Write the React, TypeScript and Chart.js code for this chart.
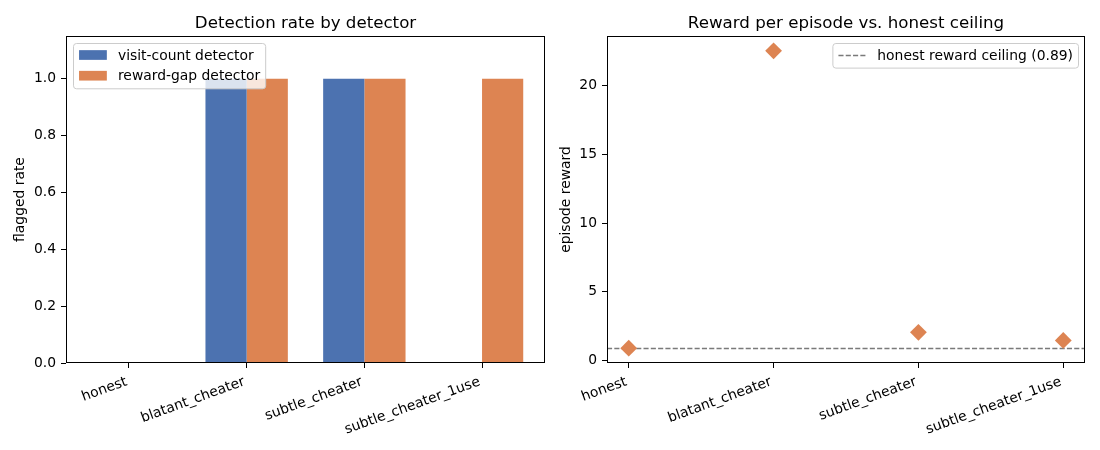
import React, { useEffect, useRef } from 'react';
import { Chart, registerables } from 'chart.js';

Chart.register(...registerables);

// ---------- data ----------
const CATEGORIES = ['honest', 'blatant_cheater', 'subtle_cheater', 'subtle_cheater_1use'];
const VISIT_COUNT_RATE = [0, 1, 1, 0];
const REWARD_GAP_RATE = [0, 1, 1, 1];
const EPISODE_REWARD = [0.88, 22.55, 2.03, 1.44];
const HONEST_CEILING = 0.89;
const RATE_TICKS = [0, 0.2, 0.4, 0.6, 0.8, 1.0];
const REWARD_TICKS = [0, 5, 10, 15, 20];
const RATE_MAX = 1.15;
const BAR_WIDTH = 0.35;

const LEFT_TITLE = 'Detection rate by detector';
const RIGHT_TITLE = 'Reward per episode vs. honest ceiling';
const LEFT_YLABEL = 'flagged rate';
const RIGHT_YLABEL = 'episode reward';
const SERIES_LABELS = ['visit-count detector', 'reward-gap detector'];
const CEILING_LABEL = `honest reward ceiling (${HONEST_CEILING.toFixed(2)})`;

// ---------- style ----------
const BLUE = '#4C72B0';
const ORANGE = '#DD8452';
const GRAY = '#7a7a7a';
const FONT = '"DejaVu Sans", "Liberation Sans", sans-serif';
const FS = 13.89;
const TITLE_FS = 16.67;
const W = 550;
const H = 450;
const TOP = 36;
const BOTTOM_AXIS_H = 87;

const rad20 = (20 * Math.PI) / 180;

function drawFrame(chart: any) {
  const { ctx, chartArea } = chart;
  ctx.save();
  ctx.strokeStyle = '#000';
  ctx.lineWidth = 1;
  ctx.strokeRect(
    Math.round(chartArea.left) + 0.5,
    Math.round(chartArea.top) + 0.5,
    Math.round(chartArea.right - chartArea.left) - 1,
    Math.round(chartArea.bottom - chartArea.top) - 1
  );
  ctx.restore();
}

function drawXLabels(chart: any) {
  const { ctx, chartArea } = chart;
  const xs = chart.scales.x;
  ctx.save();
  ctx.font = `${FS}px ${FONT}`;
  ctx.fillStyle = '#000';
  const h = FS * 1.164;
  const desc = FS * 0.236;
  const y0 = chartArea.bottom + 9.7;
  CATEGORIES.forEach((lab, i) => {
    const px = xs.getPixelForValue(i);
    ctx.save();
    ctx.translate(px, y0 + h * Math.cos(rad20));
    ctx.rotate(-rad20);
    ctx.textAlign = 'right';
    ctx.textBaseline = 'alphabetic';
    ctx.fillText(lab, 0, -desc);
    ctx.restore();
  });
  ctx.restore();
}

function drawTitles(chart: any, title: string, ylabel: string, ylabelX: number) {
  const { ctx, chartArea } = chart;
  ctx.save();
  ctx.fillStyle = '#000';
  ctx.font = `${TITLE_FS}px ${FONT}`;
  ctx.textAlign = 'center';
  ctx.textBaseline = 'alphabetic';
  ctx.fillText(title, (chartArea.left + chartArea.right) / 2, 28);
  ctx.font = `${FS}px ${FONT}`;
  ctx.translate(ylabelX, (chartArea.top + chartArea.bottom) / 2);
  ctx.rotate(-Math.PI / 2);
  ctx.textBaseline = 'middle';
  ctx.fillText(ylabel, 0, 0);
  ctx.restore();
}

function roundRect(ctx: any, x: number, y: number, w: number, h: number, r: number) {
  ctx.beginPath();
  ctx.moveTo(x + r, y);
  ctx.lineTo(x + w - r, y);
  ctx.arcTo(x + w, y, x + w, y + r, r);
  ctx.lineTo(x + w, y + h - r);
  ctx.arcTo(x + w, y + h, x + w - r, y + h, r);
  ctx.lineTo(x + r, y + h);
  ctx.arcTo(x, y + h, x, y + h - r, r);
  ctx.lineTo(x, y + r);
  ctx.arcTo(x, y, x + r, y, r);
  ctx.closePath();
}

type LegendItem = { label: string; kind: 'patch' | 'dash'; color: string };

function drawLegend(chart: any, items: LegendItem[], corner: 'left' | 'right') {
  const { ctx, chartArea } = chart;
  ctx.save();
  ctx.font = `${FS}px ${FONT}`;
  const pad = 0.4 * FS;
  const handleLen = 2 * FS;
  const textPad = 0.8 * FS;
  const rowStep = 20.7;
  const maxText = Math.max(...items.map((it) => ctx.measureText(it.label).width));
  const bw = pad + handleLen + textPad + maxText + pad;
  const bh = 2 * pad + 13.5 + (items.length - 1) * rowStep;
  const gap = 7;
  const bx = corner === 'left' ? chartArea.left + gap : chartArea.right - gap - bw;
  const by = chartArea.top + gap + 0.5;
  roundRect(ctx, bx + 0.5, by, bw, bh, 3);
  ctx.fillStyle = 'rgba(255,255,255,0.8)';
  ctx.fill();
  ctx.strokeStyle = '#cccccc';
  ctx.lineWidth = 1;
  ctx.stroke();
  items.forEach((it, i) => {
    const cy = by + pad + 6 + i * rowStep;
    const hx = bx + pad + 0.5;
    if (it.kind === 'patch') {
      ctx.fillStyle = it.color;
      ctx.fillRect(hx, cy - 4.9, handleLen, 9.7);
    } else {
      ctx.save();
      ctx.strokeStyle = it.color;
      ctx.lineWidth = 1.4;
      ctx.setLineDash([5.1, 2.2]);
      ctx.beginPath();
      ctx.moveTo(hx, Math.round(cy) + 0.5);
      ctx.lineTo(hx + handleLen, Math.round(cy) + 0.5);
      ctx.stroke();
      ctx.restore();
    }
    ctx.fillStyle = '#000';
    ctx.textAlign = 'left';
    ctx.textBaseline = 'middle';
    ctx.fillText(it.label, hx + handleLen + textPad, cy + 1);
  });
  ctx.restore();
}

function commonY(ticks: number[], min: number, max: number, width: number, fmt: (v: number) => string) {
  return {
    type: 'linear',
    min,
    max,
    afterBuildTicks: (s: any) => {
      s.ticks = ticks.map((v) => ({ value: v }));
    },
    afterFit: (s: any) => {
      s.width = width;
    },
    border: { display: false },
    grid: {
      display: true,
      drawOnChartArea: false,
      drawTicks: true,
      tickLength: 5,
      color: '#000',
      tickColor: '#000',
      lineWidth: 1,
    },
    ticks: {
      color: '#000',
      padding: 5,
      font: { size: FS, family: FONT },
      callback: (v: any) => fmt(Number(v)),
    },
  };
}

function commonX(min: number, max: number) {
  return {
    type: 'linear',
    min,
    max,
    offset: false,
    afterBuildTicks: (s: any) => {
      s.ticks = CATEGORIES.map((_, i) => ({ value: i }));
    },
    afterFit: (s: any) => {
      s.height = BOTTOM_AXIS_H;
    },
    border: { display: false },
    grid: {
      display: true,
      offset: false,
      drawOnChartArea: false,
      drawTicks: true,
      tickLength: 5,
      color: '#000',
      tickColor: '#000',
      lineWidth: 1,
    },
    ticks: { display: false },
  };
}

function LeftChart() {
  const ref = useRef<HTMLCanvasElement>(null);
  useEffect(() => {
    const n = CATEGORIES.length;
    const lo = -BAR_WIDTH;
    const hi = n - 1 + BAR_WIDTH;
    const pad = 0.05 * (hi - lo);
    const chart = new Chart(ref.current as HTMLCanvasElement, {
      type: 'bar',
      data: {
        datasets: [
          {
            label: SERIES_LABELS[0],
            data: VISIT_COUNT_RATE.map((v, i) => ({ x: i, y: v })),
            backgroundColor: BLUE,
            borderWidth: 0,
            categoryPercentage: 2 * BAR_WIDTH,
            barPercentage: 1,
          },
          {
            label: SERIES_LABELS[1],
            data: REWARD_GAP_RATE.map((v, i) => ({ x: i, y: v })),
            backgroundColor: ORANGE,
            borderWidth: 0,
            categoryPercentage: 2 * BAR_WIDTH,
            barPercentage: 1,
          },
        ] as any,
      },
      options: {
        animation: false,
        responsive: false,
        devicePixelRatio: 1,
        layout: { padding: { top: TOP, right: 5, left: 0, bottom: 0 } },
        plugins: { legend: { display: false }, title: { display: false }, tooltip: { enabled: false } },
        scales: {
          x: commonX(lo - pad, hi + pad) as any,
          y: commonY(RATE_TICKS, 0, RATE_MAX, 66, (v) => v.toFixed(1)) as any,
        },
      },
      plugins: [
        {
          id: 'decor',
          afterDraw: (c: any) => {
            drawFrame(c);
            drawXLabels(c);
            drawTitles(c, LEFT_TITLE, LEFT_YLABEL, 20);
            drawLegend(
              c,
              [
                { label: SERIES_LABELS[0], kind: 'patch', color: BLUE },
                { label: SERIES_LABELS[1], kind: 'patch', color: ORANGE },
              ],
              'left'
            );
          },
        },
      ],
    });
    return () => chart.destroy();
  }, []);
  return <canvas ref={ref} width={W} height={H} style={{ position: 'absolute', left: 0, top: 0 }} />;
}

function RightChart() {
  const ref = useRef<HTMLCanvasElement>(null);
  useEffect(() => {
    const n = CATEGORIES.length;
    const xpad = 0.05 * (n - 1);
    const ylo = Math.min(...EPISODE_REWARD, HONEST_CEILING);
    const yhi = Math.max(...EPISODE_REWARD, HONEST_CEILING);
    const ypad = 0.05 * (yhi - ylo);
    const chart = new Chart(ref.current as HTMLCanvasElement, {
      type: 'scatter',
      data: {
        datasets: [
          {
            label: 'episode reward',
            data: EPISODE_REWARD.map((v, i) => ({ x: i, y: v })),
            backgroundColor: ORANGE,
            borderColor: ORANGE,
            pointStyle: 'rectRot',
            pointRadius: 8.4,
            pointBorderWidth: 0,
          },
        ] as any,
      },
      options: {
        animation: false,
        responsive: false,
        devicePixelRatio: 1,
        layout: { padding: { top: TOP, right: 15, left: 0, bottom: 0 } },
        plugins: { legend: { display: false }, title: { display: false }, tooltip: { enabled: false } },
        scales: {
          x: commonX(-xpad, n - 1 + xpad) as any,
          y: commonY(REWARD_TICKS, ylo - ypad, yhi + ypad, 57, (v) => String(Math.round(v))) as any,
        },
      },
      plugins: [
        {
          id: 'ceiling',
          beforeDatasetsDraw: (c: any) => {
            const { ctx, chartArea } = c;
            const y = c.scales.y.getPixelForValue(HONEST_CEILING);
            ctx.save();
            ctx.strokeStyle = GRAY;
            ctx.lineWidth = 1.4;
            ctx.setLineDash([5.1, 2.2]);
            ctx.beginPath();
            ctx.moveTo(chartArea.left, Math.round(y) + 0.5);
            ctx.lineTo(chartArea.right, Math.round(y) + 0.5);
            ctx.stroke();
            ctx.restore();
          },
        },
        {
          id: 'decor',
          afterDraw: (c: any) => {
            drawFrame(c);
            drawXLabels(c);
            drawTitles(c, RIGHT_TITLE, RIGHT_YLABEL, 16.7);
            drawLegend(c, [{ label: CEILING_LABEL, kind: 'dash', color: GRAY }], 'right');
          },
        },
      ],
    });
    return () => chart.destroy();
  }, []);
  return <canvas ref={ref} width={W} height={H} style={{ position: 'absolute', left: W, top: 0 }} />;
}

export default function App() {
  return (
    <div style={{ position: 'absolute', left: 0, top: 0, width: 1100, height: 450, background: '#fff' }}>
      <LeftChart />
      <RightChart />
    </div>
  );
}
